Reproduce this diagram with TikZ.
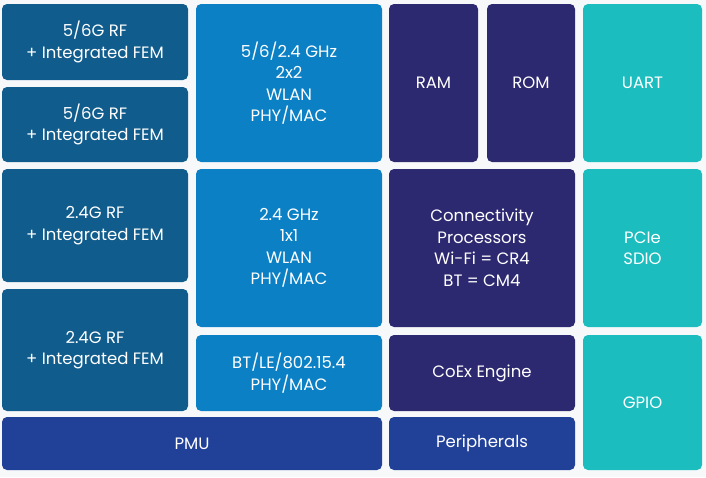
\documentclass[tikz,border=0pt]{standalone}
\usepackage{fontspec}
\setmainfont{Poppins}
\definecolor{bg}{HTML}{F7F8FA}
\definecolor{rfc}{HTML}{105C8C}
\definecolor{phyc}{HTML}{0B80C5}
\definecolor{cpuc}{HTML}{2D2970}
\definecolor{pwrc}{HTML}{214098}
\definecolor{ioc}{HTML}{1BBDBF}
\tikzset{
  blk/.style={draw=none, rounded corners=5pt, inner sep=0pt, outer sep=0pt,
    text=white, align=center, font=\fontsize{16.5}{21.5}\selectfont},
}
\newcommand{\blk}[7]{%
  \pgfmathsetmacro{\bw}{#5-#3}\pgfmathsetmacro{\bh}{#6-#4}%
  \node[blk, fill=#2, minimum width=\bw pt, minimum height=\bh pt, anchor=north west] (#1) at (#3,#4) {#7};}
\begin{document}
\begin{tikzpicture}[x=1pt,y=-1pt]
\fill[bg] (0,0) rectangle (706,477);
\useasboundingbox (0,0) rectangle (706,477);
\blk{rfa}{rfc}{2}{4}{188}{80}{5/6G RF\\+ Integrated FEM}
\blk{rfb}{rfc}{2}{87}{188}{162}{5/6G RF\\+ Integrated FEM}
\blk{rfcc}{rfc}{2}{169}{188}{282}{2.4G RF\\+ Integrated FEM}
\blk{rfd}{rfc}{2}{289}{188}{411}{2.4G RF\\+ Integrated FEM}
\blk{wla}{phyc}{196}{4}{382}{162}{5/6/2.4 GHz\\2x2\\WLAN\\PHY/MAC}
\blk{wlb}{phyc}{196}{169}{382}{327}{2.4 GHz\\1x1\\WLAN\\PHY/MAC}
\blk{bt}{phyc}{196}{335}{382}{411}{BT/LE/802.15.4\\PHY/MAC}
\blk{pmu}{pwrc}{2}{417}{382}{470}{PMU}
\blk{ram}{cpuc}{389}{4}{478}{162}{RAM}
\blk{rom}{cpuc}{487}{4}{575}{162}{ROM}
\blk{cp}{cpuc}{389}{169}{575}{327}{Connectivity\\Processors\\Wi-Fi = CR4\\BT = CM4}
\blk{coex}{cpuc}{389}{335}{575}{411}{CoEx Engine}
\blk{per}{pwrc}{389}{417}{575}{470}{Peripherals}
\blk{uart}{ioc}{583}{4}{702}{162}{UART}
\blk{pcie}{ioc}{583}{169}{702}{327}{PCIe\\SDIO}
\blk{gpio}{ioc}{583}{335}{702}{470}{GPIO}
\end{tikzpicture}
\end{document}
